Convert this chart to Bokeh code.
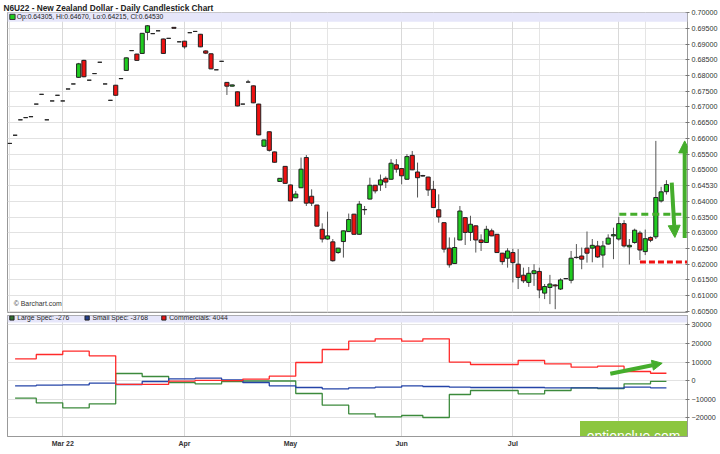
from bokeh.plotting import figure
from bokeh.layouts import column
from bokeh.models import (ColumnDataSource, FixedTicker, PrintfTickFormatter, BoxAnnotation,
                          Label, HTMLLabel, Arrow, NormalHead, Range1d, Grid)
from bokeh.embed import file_html
from bokeh.resources import INLINE

TITLE = "N6U22 - New Zealand Dollar - Daily Candlestick Chart"

opens = [0.6584, 0.6610, 0.6659, 0.6666, 0.6669, 0.6709, 0.6740, 0.6659, 0.6719, 0.6737,
         0.6719, 0.6757, 0.6773, 0.6794, 0.6848, 0.6785, 0.6806, 0.6842, 0.6773, 0.6721,
         0.6769, 0.6790, 0.6816, 0.6879, 0.6868, 0.6870, 0.6937, 0.6933, 0.6942, 0.6916,
         0.6918, 0.6953, 0.6907, 0.6909, 0.6936, 0.6940, 0.6931, 0.6878, 0.6869, 0.6818,
         0.6845, 0.6778, 0.6766, 0.6748, 0.6709, 0.6779, 0.6767, 0.6709, 0.6575, 0.6621,
         0.6557, 0.6463, 0.6511, 0.6452, 0.6411, 0.6443, 0.6539, 0.6416, 0.6388, 0.6311,
         0.6280, 0.6271, 0.6237, 0.6272, 0.6304, 0.6359, 0.6295, 0.6373, 0.6407, 0.6451,
         0.6452, 0.6473, 0.6470, 0.6516, 0.6504, 0.6470, 0.6546, 0.6493, 0.6482, 0.6477,
         0.6438, 0.6373, 0.6332, 0.6251, 0.6202, 0.6277, 0.6348, 0.6301, 0.6322, 0.6277,
         0.6269, 0.6306, 0.6295, 0.6235, 0.6219, 0.6237, 0.6200, 0.6165, 0.6142, 0.6170,
         0.6177, 0.6108, 0.6126, 0.6134, 0.6121, 0.6154, 0.6149, 0.6221, 0.6226, 0.6251,
         0.6251, 0.6258, 0.6229, 0.6264, 0.6290, 0.6280, 0.6329, 0.6255, 0.6269, 0.6299,
         0.6240, 0.6285, 0.6287, 0.6401, 0.64305]
highs = [0.6584, 0.6610, 0.6659, 0.6666, 0.6669, 0.6709, 0.6740, 0.6659, 0.6719, 0.6737,
         0.6719, 0.6757, 0.6773, 0.6840, 0.6850, 0.6785, 0.6806, 0.6842, 0.6773, 0.6721,
         0.6770, 0.6790, 0.6857, 0.6879, 0.6869, 0.6935, 0.6960, 0.6933, 0.6942, 0.6917,
         0.6918, 0.6953, 0.6907, 0.6910, 0.6936, 0.6940, 0.6932, 0.6880, 0.6870, 0.6818,
         0.6845, 0.6779, 0.6771, 0.6749, 0.6709, 0.6786, 0.6768, 0.6710, 0.6596, 0.6622,
         0.6558, 0.6474, 0.6512, 0.6453, 0.6433, 0.6539, 0.6547, 0.6438, 0.6389, 0.6330,
         0.6367, 0.6280, 0.6252, 0.6307, 0.6361, 0.6360, 0.6401, 0.6385, 0.6475, 0.6452,
         0.6485, 0.6479, 0.6534, 0.6534, 0.6505, 0.6550, 0.6560, 0.6523, 0.6484, 0.6478,
         0.6465, 0.6422, 0.6333, 0.6285, 0.6285, 0.6385, 0.6349, 0.6354, 0.6323, 0.6295,
         0.6322, 0.6313, 0.6296, 0.6236, 0.6251, 0.6249, 0.6248, 0.6189, 0.6191, 0.6200,
         0.6189, 0.6137, 0.6166, 0.6136, 0.6155, 0.6155, 0.6242, 0.6264, 0.6253, 0.6304,
         0.6280, 0.6274, 0.6274, 0.6295, 0.6316, 0.6350, 0.6340, 0.6280, 0.6313, 0.6306,
         0.6310, 0.6288, 0.6592, 0.6446, 0.64670]
lows = [0.6584, 0.6610, 0.6659, 0.6666, 0.6669, 0.6709, 0.6740, 0.6659, 0.6719, 0.6737,
        0.6719, 0.6757, 0.6773, 0.6792, 0.6794, 0.6785, 0.6806, 0.6842, 0.6773, 0.6721,
        0.6736, 0.6790, 0.6815, 0.6879, 0.6847, 0.6869, 0.6912, 0.6933, 0.6942, 0.6869,
        0.6918, 0.6950, 0.6907, 0.6885, 0.6936, 0.6940, 0.6890, 0.6868, 0.6820, 0.6818,
        0.6845, 0.6738, 0.6765, 0.6702, 0.6709, 0.6779, 0.6712, 0.6610, 0.6574, 0.6558,
        0.6523, 0.6462, 0.6456, 0.6400, 0.6410, 0.6442, 0.6385, 0.6385, 0.6320, 0.6269,
        0.6278, 0.6208, 0.6233, 0.6221, 0.6303, 0.6294, 0.6294, 0.6357, 0.6406, 0.6425,
        0.6433, 0.6442, 0.6468, 0.6491, 0.6454, 0.6469, 0.6499, 0.6412, 0.6479, 0.6417,
        0.6379, 0.6332, 0.6237, 0.6189, 0.6201, 0.6276, 0.6261, 0.6274, 0.6237, 0.6242,
        0.6268, 0.6289, 0.6236, 0.6198, 0.6189, 0.6142, 0.6121, 0.6140, 0.6128, 0.6131,
        0.6092, 0.6089, 0.6073, 0.6057, 0.6118, 0.6153, 0.6139, 0.6218, 0.6184, 0.6205,
        0.6206, 0.6220, 0.6189, 0.6262, 0.6216, 0.6275, 0.6253, 0.6199, 0.6265, 0.6213,
        0.6229, 0.6270, 0.6280, 0.6396, 0.64215]
closes = [0.6584, 0.6610, 0.6659, 0.6666, 0.6669, 0.6709, 0.6740, 0.6659, 0.6719, 0.6737,
          0.6719, 0.6757, 0.6773, 0.6837, 0.6796, 0.6785, 0.6806, 0.6842, 0.6773, 0.6721,
          0.6737, 0.6790, 0.6856, 0.6879, 0.6848, 0.6934, 0.6958, 0.6933, 0.6942, 0.6870,
          0.6918, 0.6950, 0.6907, 0.6891, 0.6936, 0.6940, 0.6891, 0.6871, 0.6821, 0.6818,
          0.6845, 0.6766, 0.6770, 0.6703, 0.6709, 0.6779, 0.6713, 0.6611, 0.6595, 0.6562,
          0.6524, 0.6473, 0.6457, 0.6401, 0.6423, 0.6502, 0.6394, 0.6394, 0.6321, 0.6280,
          0.6290, 0.6211, 0.6251, 0.6306, 0.6342, 0.6295, 0.6391, 0.6374, 0.6451, 0.6433,
          0.6468, 0.6461, 0.6521, 0.6502, 0.6481, 0.6542, 0.6500, 0.6475, 0.6480, 0.6436,
          0.6380, 0.6350, 0.6248, 0.6198, 0.6253, 0.6369, 0.6301, 0.6327, 0.6277, 0.6269,
          0.6311, 0.6290, 0.6237, 0.6208, 0.6242, 0.6205, 0.6158, 0.6147, 0.6171, 0.6179,
          0.6118, 0.6129, 0.6137, 0.6131, 0.6150, 0.6154, 0.6219, 0.6222, 0.6216, 0.6235,
          0.6260, 0.6223, 0.6258, 0.6283, 0.6294, 0.6329, 0.6258, 0.6260, 0.6308, 0.6245,
          0.6281, 0.6276, 0.6412, 0.6430, 0.64530]

month_idx = [10, 33, 53, 74, 95, 115]
month_labels = ["Mar 22", "Apr", "May", "Jun", "Jul", ""]
price_ticks = [0.605, 0.610, 0.615, 0.620, 0.625, 0.630, 0.635, 0.640, 0.645, 0.650,
               0.655, 0.660, 0.665, 0.670, 0.675, 0.680, 0.685, 0.690, 0.695, 0.700]
cot_ticks = [-20000, -10000, 0, 10000, 20000, 30000]

cot_weeks = [1, 5, 10, 15, 20, 25, 30, 35, 40, 44, 49, 54, 59, 64, 69, 74, 78, 83, 87, 92,
             96, 101, 106, 111, 116, 121]
large_spec = [-9350, -11830, -14520, -12370, 3920, 2310, -910, -1610, -380, -100, -100,
              -6830, -13120, -17740, -19350, -18660, -19730, -7370, -5220, -5220, -6990,
              -5220, -3760, -4140, -1610, -276]
small_spec = [-2690, -2370, -2150, -1290, -1990, -380, 1070, 1400, 540, -910, -2690,
              -3600, -4300, -3760, -3440, -2690, -3060, -3440, -3600, -3600, -3600,
              -3760, -3760, -3980, -3440, -3768]
commercials = [11830, 14140, 15910, 13440, -1930, -1930, -160, 210, 100, 900, 2500,
               9840, 16830, 21290, 22580, 21290, 22580, 10000, 8760, 8760, 10910,
               9140, 7310, 7850, 5000, 4044]
last_bar = 124

# hand-drawn annotations (levels and arrows)
resistance_level = 0.6359
resistance_span = (115.1, 127.6)
support_level = 0.6207
support_span = (119.0, 128.5)
up_arrow = (127.45, 0.6283, 127.45, 0.6592)
down_arrow = (125.0, 0.6459, 125.6, 0.6285)
cot_arrow = (113.4, 3760, 123.2, 9460)

FONT = "Liberation Sans"
GREEN = "#1fcc1f"
RED = "#ee1111"
AG = "#45ad2c"
W = 720
x_range = Range1d(-0.434, 127.98)

n = len(opens)
idx = list(range(n))
src = ColumnDataSource(dict(
    x=idx, h=highs, l=lows,
    top=[max(o, c) for o, c in zip(opens, closes)],
    bottom=[min(o, c) for o, c in zip(opens, closes)],
    color=[GREEN if c > o else (RED if c < o else "#000000") for o, c in zip(opens, closes)],
))

main = figure(width=W, height=315, x_range=x_range, y_range=Range1d(0.60464, 0.70002),
              x_axis_location=None, y_axis_location="right", output_backend="svg",
              toolbar_location=None, min_border_left=7, min_border_right=33,
              min_border_top=12, min_border_bottom=3)
main.title.text = TITLE
main.title.text_font = FONT
main.title.text_font_size = "8.3px"
main.title.text_font_style = "bold"
main.title.text_color = "#222222"
main.title.standoff = 0
main.title.offset = -4
main.outline_line_color = "#999999"
main.background_fill_color = "white"
main.border_fill_color = "white"

main.yaxis.ticker = FixedTicker(ticks=price_ticks)
main.yaxis.formatter = PrintfTickFormatter(format="%.5f")
main.yaxis.major_label_overrides = {0.645: f"{closes[-1]:.5f}"}
main.yaxis.major_label_text_font = FONT
main.yaxis.major_label_text_font_size = "7.2px"
main.yaxis.major_label_text_color = "#333333"
main.yaxis.axis_line_color = "#999999"
main.yaxis.major_tick_line_color = "#777777"
main.yaxis.major_tick_in = 2
main.yaxis.major_tick_out = 2
main.yaxis.minor_tick_line_color = None
main.yaxis.major_label_standoff = 2
main.ygrid.ticker = FixedTicker(ticks=price_ticks)
main.ygrid.grid_line_color = "#e2e2e2"
main.add_layout(Grid(dimension=0, ticker=FixedTicker(ticks=month_idx), grid_line_color="#d9d9d9"))

main.add_layout(BoxAnnotation(bottom=0.69708, fill_color="#e6e6fa", fill_alpha=1.0, line_alpha=0))

main.segment(x0="x", y0="h", x1="x", y1="l", source=src, line_color="#555555", line_width=1)
main.vbar(x="x", width=0.78, top="top", bottom="bottom", fill_color="color",
          line_color="#222222", line_width=1, source=src)

main.add_layout(BoxAnnotation(left=0.0, right=1.0, top=0.69945, bottom=0.69780,
                              fill_color=GREEN, fill_alpha=1.0, line_color="#333333", line_alpha=1.0))
main.add_layout(Label(x=1.3, y=0.69863, text=f"Op:{opens[-1]:.5f}, Hi:{highs[-1]:.5f}, Lo:{lows[-1]:.5f}, Cl:{closes[-1]:.5f}",
                      text_font=FONT, text_font_size="6.8px", text_color="#222222", text_baseline="middle"))
main.add_layout(Label(x=0.75, y=0.60756, text="\u00a9 Barchart.com", text_font=FONT,
                      text_font_size="6.9px", text_color="#333333", text_baseline="middle"))

main.line(x=list(resistance_span), y=[resistance_level, resistance_level], line_color=AG,
          line_width=3, line_dash="7 4")
main.line(x=list(support_span), y=[support_level, support_level], line_color=RED,
          line_width=3, line_dash="6 3")
for (xs, ys, xe, ye) in (up_arrow, down_arrow):
    main.add_layout(Arrow(end=NormalHead(size=12, fill_color=AG, line_color=AG),
                          x_start=xs, y_start=ys, x_end=xe, y_end=ye,
                          line_color=AG, line_width=4))

bot = figure(width=W, height=139, x_range=x_range, y_range=Range1d(-29950, 35104),
             y_axis_location="right", output_backend="svg", toolbar_location=None,
             min_border_left=7, min_border_right=33, min_border_top=0, min_border_bottom=18)
bot.outline_line_color = "#999999"
bot.yaxis.ticker = FixedTicker(ticks=cot_ticks)
bot.yaxis.major_label_text_font = FONT
bot.yaxis.major_label_text_font_size = "7.2px"
bot.yaxis.major_label_text_color = "#333333"
bot.yaxis.axis_line_color = "#999999"
bot.yaxis.major_tick_line_color = "#777777"
bot.yaxis.major_tick_in = 2
bot.yaxis.major_tick_out = 2
bot.yaxis.minor_tick_line_color = None
bot.yaxis.major_label_standoff = 2
bot.ygrid.ticker = FixedTicker(ticks=cot_ticks)
bot.ygrid.grid_line_color = "#e2e2e2"
bot.xaxis.ticker = FixedTicker(ticks=month_idx)
bot.xaxis.major_label_overrides = {m: lab for m, lab in zip(month_idx, month_labels)}
bot.xaxis.major_label_text_font = FONT
bot.xaxis.major_label_text_font_size = "7px"
bot.xaxis.major_label_text_font_style = "bold"
bot.xaxis.major_label_text_color = "#333333"
bot.xaxis.axis_line_color = "#999999"
bot.xaxis.major_tick_line_color = None
bot.xaxis.minor_tick_line_color = None
bot.xaxis.major_tick_in = 0
bot.xaxis.major_tick_out = 0
bot.xaxis.major_label_standoff = 3
bot.xgrid.ticker = FixedTicker(ticks=month_idx)
bot.xgrid.grid_line_color = "#d9d9d9"

bot.add_layout(BoxAnnotation(bottom=31300, fill_color="#e6e6fa", fill_alpha=1.0, line_alpha=0))

step_x = cot_weeks + [last_bar]
for vals, col in ((large_spec, "#3c8a3c"), (small_spec, "#2544a8"), (commercials, "#ff2a2a")):
    bot.step(x=step_x, y=vals + [vals[-1]], mode="after", line_color=col, line_width=1.3)

legend_items = [
    (0.0, "#2f6f2f", f"Large Spec: {large_spec[-1]}"),
    (14.2, "#24408f", f"Small Spec: {small_spec[-1]}"),
    (28.7, "#ee1111", f"Commercials: {commercials[-1]}"),
]
for x0, col, txt in legend_items:
    bot.add_layout(BoxAnnotation(left=x0, right=x0 + 0.8, top=34950, bottom=32650,
                                 fill_color=col, fill_alpha=1.0, line_color="#222222", line_alpha=1.0))
    bot.add_layout(Label(x=x0 + 1.4, y=33800, text=txt, text_font=FONT, text_font_size="6.8px",
                         text_color="#222222", text_baseline="middle"))

xs, ys, xe, ye = cot_arrow
bot.add_layout(Arrow(end=NormalHead(size=10, fill_color=AG, line_color=AG),
                     x_start=xs, y_start=ys, x_end=xe, y_end=ye, line_color=AG, line_width=4))

bot.add_layout(HTMLLabel(x=107.74, y=-29950, text="optionclue.com", text_font=FONT,
                         text_font_size="13.9px", text_color="white", text_baseline="middle",
                         background_fill_color="#8cc63f", padding=7))

layout = column(main, bot, spacing=0)
open("out.html", "w").write(file_html(layout, INLINE))
